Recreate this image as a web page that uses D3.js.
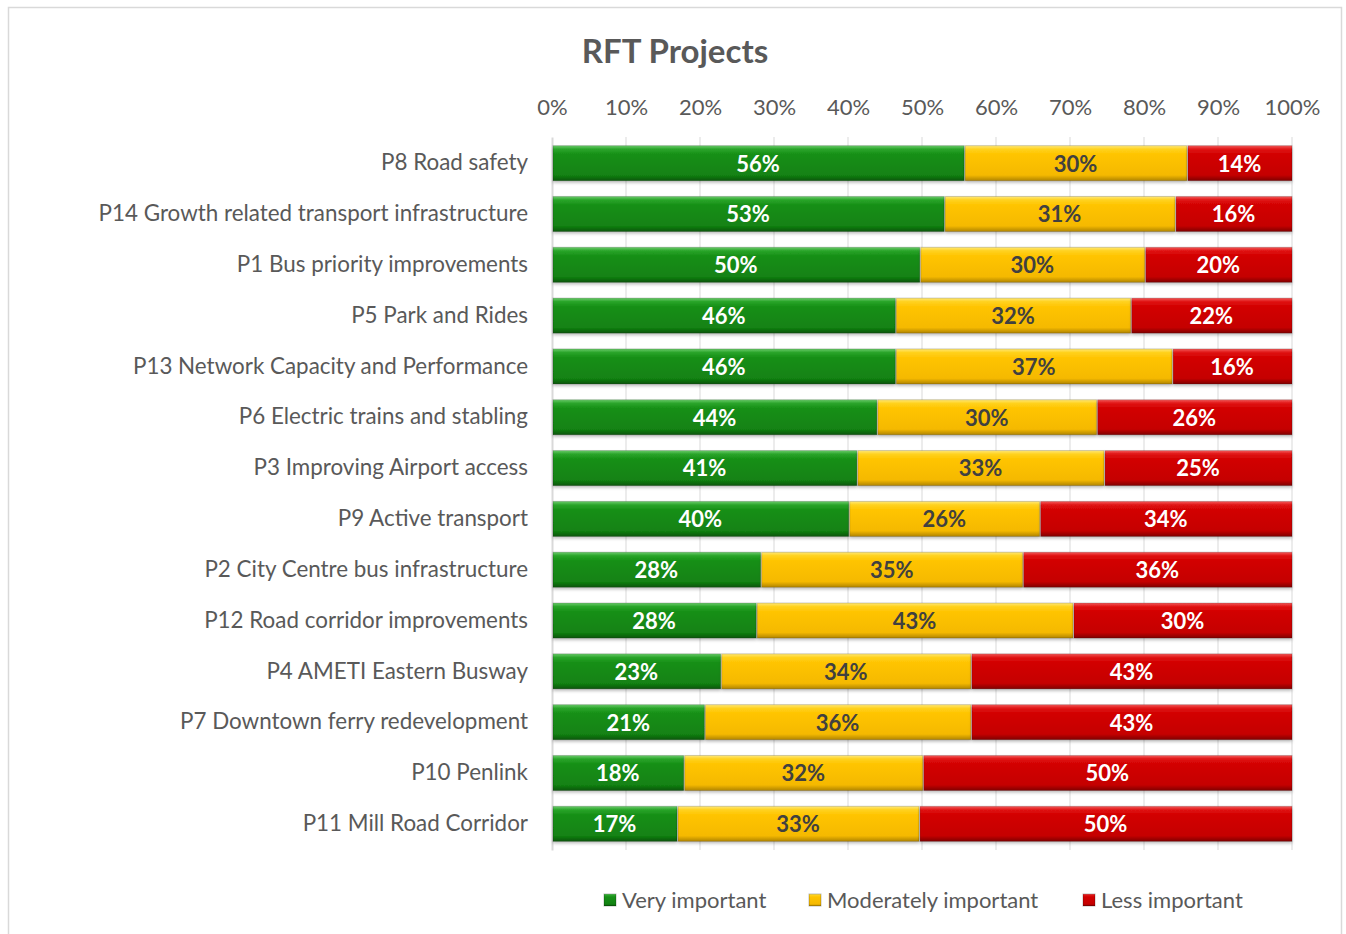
<!DOCTYPE html>
<html>
<head>
<meta charset="utf-8">
<script src="https://cdn.jsdelivr.net/npm/d3@7"></script>
<style>
  body { margin: 0; background: #fff; }
  text { font-family: Lato, "Open Sans", sans-serif; }
</style>
</head>
<body>
<svg id="chart" width="1346" height="934"></svg>
<script>
// categories, top to bottom
var projects = [
    "P8 Road safety",
    "P14 Growth related transport infrastructure",
    "P1 Bus priority improvements",
    "P5 Park and Rides",
    "P13 Network Capacity and Performance",
    "P6 Electric trains and stabling",
    "P3 Improving Airport access",
    "P9 Active transport",
    "P2 City Centre bus infrastructure",
    "P12 Road corridor improvements",
    "P4 AMETI Eastern Busway",
    "P7 Downtown ferry redevelopment",
    "P10 Penlink",
    "P11 Mill Road Corridor"
];

// shares in percent
var veryImportant = [55.7, 53.0, 49.7, 46.4, 46.4, 43.9, 41.2, 40.1, 28.2, 27.6, 22.8, 20.6, 17.8, 16.9];
var moderatelyImportant = [30.1, 31.2, 30.4, 31.8, 37.4, 29.7, 33.4, 25.8, 35.4, 42.8, 33.8, 36.0, 32.3, 32.7];
var lessImportant = [14.2, 15.8, 19.9, 21.8, 16.2, 26.4, 25.4, 34.1, 36.4, 29.6, 43.4, 43.4, 49.9, 50.4];

var seriesNames = ["Very important", "Moderately important", "Less important"];
var tickValues = [0, 10, 20, 30, 40, 50, 60, 70, 80, 90, 100];

var svg = d3.select("#chart");

var plotLeft = 552, plotRight = 1292, plotTop = 137, plotBottom = 850;
var fontSize = "22px";

var x = d3.scaleLinear().domain([0, 100]).range([plotLeft, plotRight]);
var y = d3.scaleBand().domain(projects).range([plotTop, plotBottom]).paddingInner(0.31).paddingOuter(0.17);

// gradients for the bevelled look
var grads = [
    {id: "gGreen", c: ["#6ccc6c", "#2aa52a", "#168f16", "#128212", "#0a560a"]},
    {id: "gYellow", c: ["#ffe878", "#ffd21f", "#ffc400", "#f5b900", "#b08400"]},
    {id: "gRed", c: ["#f45a5a", "#e01414", "#d20000", "#c50000", "#800000"]}
];
var defs = svg.append("defs");
grads.forEach(function(g){
    var lg = defs.append("linearGradient").attr("id", g.id)
        .attr("x1", 0).attr("y1", 0).attr("x2", 0).attr("y2", 1);
    var offs = [0, 0.1, 0.25, 0.84, 1];
    offs.forEach(function(o, i){
        lg.append("stop").attr("offset", o).attr("stop-color", g.c[i]);
    });
});
var shadow = defs.append("filter").attr("id", "shadow")
    .attr("x", "-2%").attr("y", "-20%").attr("width", "104%").attr("height", "160%");
shadow.append("feDropShadow").attr("dx", 0).attr("dy", 2).attr("stdDeviation", 1.5)
    .attr("flood-color", "#000").attr("flood-opacity", 0.25);

// outer chart border
svg.append("rect")
    .attr("x", 8.5).attr("y", 7.5)
    .attr("width", 1333).attr("height", 940)
    .attr("fill", "#fff")
    .attr("stroke", "#d9d9d9")
    .attr("stroke-width", 1.5);

// title
svg.append("text")
    .attr("x", 675).attr("y", 63)
    .attr("text-anchor", "middle")
    .attr("fill", "#595959")
    .style("font-size", "33px")
    .style("font-weight", "bold")
    .text("RFT Projects");

// gridlines
svg.append("g").selectAll("line")
    .data(tickValues.slice(1))
    .enter().append("line")
    .attr("x1", function(d){ return x(d); })
    .attr("x2", function(d){ return x(d); })
    .attr("y1", plotTop).attr("y2", plotBottom)
    .attr("stroke", "#d9d9d9")
    .attr("stroke-width", 1);

// top axis
var xAxis = svg.append("g")
    .attr("transform", "translate(0," + (plotTop - 19) + ")")
    .call(d3.axisTop(x).tickValues(tickValues).tickSize(0)
        .tickFormat(function(d){ return d + "%"; }));
xAxis.select(".domain").remove();
xAxis.selectAll("text")
    .attr("fill", "#595959")
    .style("font-size", fontSize)
    .style("font-family", "Lato, 'Open Sans', sans-serif");

// left axis
var yAxis = svg.append("g")
    .attr("transform", "translate(" + plotLeft + ",0)")
    .call(d3.axisLeft(y).tickSize(0).tickPadding(24));
yAxis.select(".domain")
    .attr("stroke", "#d9d9d9").attr("stroke-width", 2);
yAxis.selectAll("text")
    .attr("fill", "#595959")
    .style("font-size", "22.4px")
    .style("font-family", "Lato, 'Open Sans', sans-serif");

// stacked data
var rows = projects.map(function(p, i){
    return {project: p, v0: veryImportant[i], v1: moderatelyImportant[i], v2: lessImportant[i]};
});
var stack = d3.stack().keys(["v0", "v1", "v2"]);
var layers = stack(rows);

var fills = ["url(#gGreen)", "url(#gYellow)", "url(#gRed)"];
var labelColors = ["#ffffff", "#404040", "#ffffff"];

var layerGroups = svg.append("g").selectAll(".layer")
    .data(layers)
    .enter().append("g")
    .attr("class", "layer");

layerGroups.selectAll("rect")
    .data(function(d){ return d; })
    .enter().append("rect")
    .attr("x", function(d){ return x(d[0]) + 1; })
    .attr("y", function(d){ return y(d.data.project); })
    .attr("width", function(d){ return x(d[1]) - x(d[0]) - 1; })
    .attr("height", y.bandwidth())
    .attr("fill", function(){ return fills[d3.select(this.parentNode).datum().index]; })
    .attr("stroke", "rgba(0,0,0,0.18)")
    .attr("stroke-width", 1)
    .attr("filter", "url(#shadow)");

layerGroups.selectAll("text")
    .data(function(d){ return d; })
    .enter().append("text")
    .attr("x", function(d){ return (x(d[0]) + x(d[1])) / 2; })
    .attr("y", function(d){ return y(d.data.project) + y.bandwidth() / 2; })
    .attr("dy", "0.38em")
    .attr("text-anchor", "middle")
    .attr("fill", function(){ return labelColors[d3.select(this.parentNode).datum().index]; })
    .style("font-size", fontSize)
    .style("font-weight", "bold")
    .text(function(d){ return Math.round(d[1] - d[0]) + "%"; });

// legend
var legendX = [604, 809, 1083];
var legend = svg.append("g").selectAll(".legend")
    .data(seriesNames)
    .enter().append("g")
    .attr("class", "legend")
    .attr("transform", function(d, i){ return "translate(" + legendX[i] + ",894)"; });
legend.append("rect")
    .attr("width", 12).attr("height", 12)
    .attr("fill", function(d, i){ return fills[i]; })
    .attr("stroke", "rgba(0,0,0,0.25)");
legend.append("text")
    .attr("x", 18).attr("y", 6).attr("dy", "0.36em")
    .attr("fill", "#595959")
    .style("font-size", fontSize)
    .text(function(d){ return d; });
</script>
</body>
</html>
